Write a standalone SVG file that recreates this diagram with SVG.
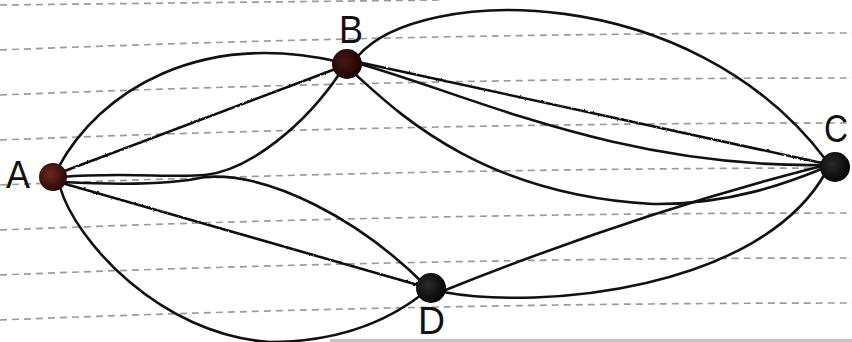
<svg xmlns="http://www.w3.org/2000/svg" width="852" height="342" viewBox="0 0 852 342">
<defs>
<style>
.paper{fill:none;stroke:#7a7a7a;stroke-width:1.7;stroke-dasharray:7 5;opacity:0.75}
.edge{fill:none;stroke:#111;stroke-width:2.6;stroke-linecap:round}
.wavy{fill:none;stroke:#111;stroke-width:2.6;stroke-linecap:round}
.lbl{font-family:"Liberation Sans","DejaVu Sans",sans-serif;font-size:38px;fill:#111}
</style>
<filter id="wob" filterUnits="userSpaceOnUse" x="0" y="0" width="852" height="342">
<feTurbulence type="fractalNoise" baseFrequency="0.45" numOctaves="1" seed="4" result="n"/>
<feDisplacementMap in="SourceGraphic" in2="n" scale="2.4" xChannelSelector="R" yChannelSelector="G"/>
</filter>
<radialGradient id="gA" cx="0.4" cy="0.4" r="0.6"><stop offset="0" stop-color="#6a2a20"/><stop offset="1" stop-color="#2a0806"/></radialGradient>
<radialGradient id="gB" cx="0.4" cy="0.4" r="0.6"><stop offset="0" stop-color="#4a1814"/><stop offset="1" stop-color="#1a0404"/></radialGradient>
<radialGradient id="gC" cx="0.4" cy="0.4" r="0.6"><stop offset="0" stop-color="#2a2a2a"/><stop offset="1" stop-color="#050505"/></radialGradient>
</defs>
<rect width="852" height="342" fill="#fff"/>
<g id="paper">
<path class="paper" d="M0 5 L440 0"/>
<path class="paper" d="M0 50 Q426 33 852 33"/>
<path class="paper" d="M0 95 Q426 78 852 78"/>
<path class="paper" d="M0 140 Q426 123 852 123"/>
<path class="paper" d="M0 185 Q426 168 852 168"/>
<path class="paper" d="M0 230 Q426 213 852 213"/>
<path class="paper" d="M0 275 Q426 258 852 258"/>
<path class="paper" d="M0 320 Q426 303 852 303"/>
<rect x="330" y="339" width="522" height="3" fill="#c4c4c4"/>
</g>
<g id="connectors">
<path class="edge" d="M58 168 C100 90 200 30 340 62"/>
<path class="edge" d="M62 177 C120 172 175 178 205 175 C250 170 305 125 340 73"/>
<path class="edge" d="M62 182 C120 185 175 184 205 177 C270 172 360 220 425 285"/>
<path class="edge" d="M60 187 C75 240 160 335 270 342 C340 342 390 320 425 292"/>
<path class="edge" d="M358 56 C420 -15 690 -20 826 160"/>
<path class="edge" d="M360 64 C470 95 620 168 822 165"/>
<path class="edge" d="M355 74 C395 110 480 195 653 204 C730 205 790 182 824 168"/>
<path class="edge" d="M443 291 Q640 212 822 166"/>
<path class="edge" d="M443 292 C540 310 760 290 826 172"/>
<g filter="url(#wob)">
<path class="wavy" d="M62 172 L338 68"/>
<path class="wavy" d="M62 183 L425 287"/>
<path class="wavy" d="M358 62 L822 163"/>
</g>
</g>
<g id="node-A"><circle cx="53" cy="177" r="14" fill="url(#gA)"/><text class="lbl" x="6" y="188" font-size="42" textLength="24" lengthAdjust="spacingAndGlyphs">A</text></g>
<g id="node-B"><circle cx="347" cy="64" r="15" fill="url(#gB)"/><text class="lbl" x="339" y="43" font-size="35" textLength="24" lengthAdjust="spacingAndGlyphs">B</text></g>
<g id="node-C"><circle cx="835" cy="167" r="15" fill="url(#gC)"/><text class="lbl" x="824" y="142" textLength="24" lengthAdjust="spacingAndGlyphs">C</text></g>
<g id="node-D"><circle cx="431" cy="288" r="15" fill="url(#gC)"/><text class="lbl" x="418" y="334" font-size="33" textLength="27" lengthAdjust="spacingAndGlyphs">D</text></g>
</svg>
